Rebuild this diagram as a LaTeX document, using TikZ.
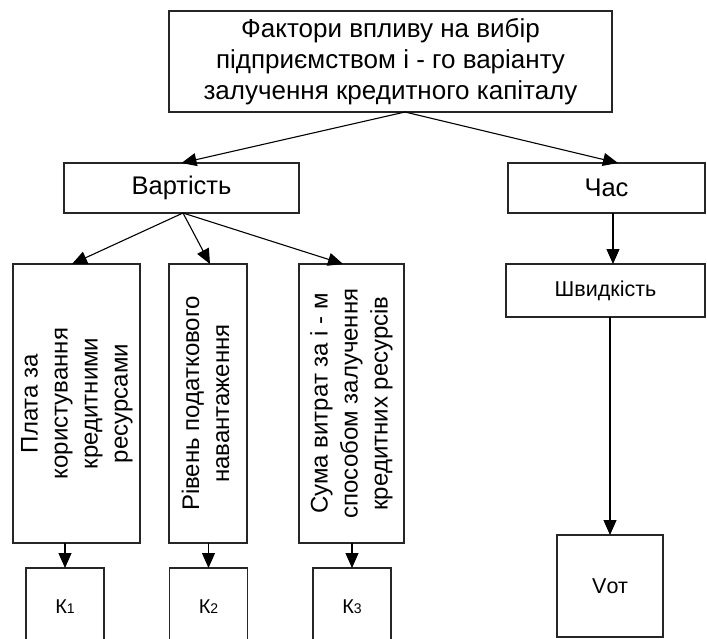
\documentclass[tikz,border=0pt]{standalone}
\usepackage{fontspec}
\usepackage{graphicx}
\setmainfont{Liberation Sans}
\usetikzlibrary{arrows.meta}
\begin{document}
\begin{tikzpicture}[x=1pt,y=-1pt,
  box/.style={draw=black!85, line width=1.1pt, inner sep=0pt, outer sep=0pt, align=center},
  arr/.style={draw=black, line width=1.1pt, -{Triangle[length=15pt,width=13pt]}},
  bigtxt/.style={font=\fontsize{26}{31}\selectfont},
  midtxt/.style={font=\fontsize{25.5}{30}\selectfont},
  smalltxt/.style={font=\fontsize{21.5}{24}\selectfont},
  ktxt/.style={font=\fontsize{20}{24}\selectfont}
]
\useasboundingbox (0,0) rectangle (707,638);
\clip (0,0) rectangle (707,638);

\node[box, bigtxt, minimum width=443, minimum height=101] (top) at (390.5,61.5)
  {Фактори впливу на вибір\\підприємством і - го варіанту\\залучення кредитного капіталу};
\node[box, midtxt, minimum width=235, minimum height=50] (cost) at (181.5,188) {Вартість};
\node[box, midtxt, minimum width=197, minimum height=50] (time) at (606.5,188) {Час};
\node[box, smalltxt, minimum width=199, minimum height=53] (speed) at (605.5,290.5) {Швидкість};

\node[box, minimum width=127, minimum height=279] (b1) at (76.5,403.5)
  {\fontsize{24}{30}\selectfont\rotatebox{90}{\begin{tabular}{@{}c@{}}Плата за\\користування\\кредитними\\ресурсами\end{tabular}}};
\node[box, minimum width=78, minimum height=279] (b2) at (208,403.5)
  {\fontsize{24}{30}\selectfont\rotatebox{90}{\begin{tabular}{@{}c@{}}Рівень податкового\\навантаження\end{tabular}}};
\node[box, minimum width=105, minimum height=279] (b3) at (351.5,403.5)
  {\fontsize{24}{30}\selectfont\rotatebox{90}{\begin{tabular}{@{}c@{}}Сума витрат за і - м\\способом залучення\\кредитних ресурсів\end{tabular}}};

\node[box, ktxt, minimum width=78, minimum height=78] (k1) at (65,607)
  {К{\fontsize{14}{14}\selectfont 1}};
\node[box, ktxt, minimum width=78, minimum height=78] (k2) at (208.5,607)
  {К{\fontsize{14}{14}\selectfont 2}};
\node[box, ktxt, minimum width=78, minimum height=78] (k3) at (352,607)
  {К{\fontsize{14}{14}\selectfont 3}};
\node[box, smalltxt, minimum width=106, minimum height=102] (vot) at (610,586) {Vот};

\draw[arr] ([xshift=14.5pt]top.south) -- (cost.north);
\draw[arr] ([xshift=14.5pt]top.south) -- ([xshift=11.5pt]time.north);
\draw[arr] ([xshift=1.5pt]cost.south) -- ([xshift=-4.5pt]b1.north);
\draw[arr] ([xshift=1.5pt]cost.south) -- ([xshift=2pt]b2.north);
\draw[arr] ([xshift=1.5pt]cost.south) -- ([xshift=-8.5pt]b3.north);
\draw[arr] ([xshift=6.5pt]time.south) -- ([xshift=7.5pt]speed.north);
\draw[arr] (vot.north |- speed.south) -- (vot.north);
\draw[arr] (k1.north |- b1.south) -- (k1.north);
\draw[arr] (k2.north |- b2.south) -- (k2.north);
\draw[arr] (k3.north |- b3.south) -- (k3.north);
\end{tikzpicture}
\end{document}
